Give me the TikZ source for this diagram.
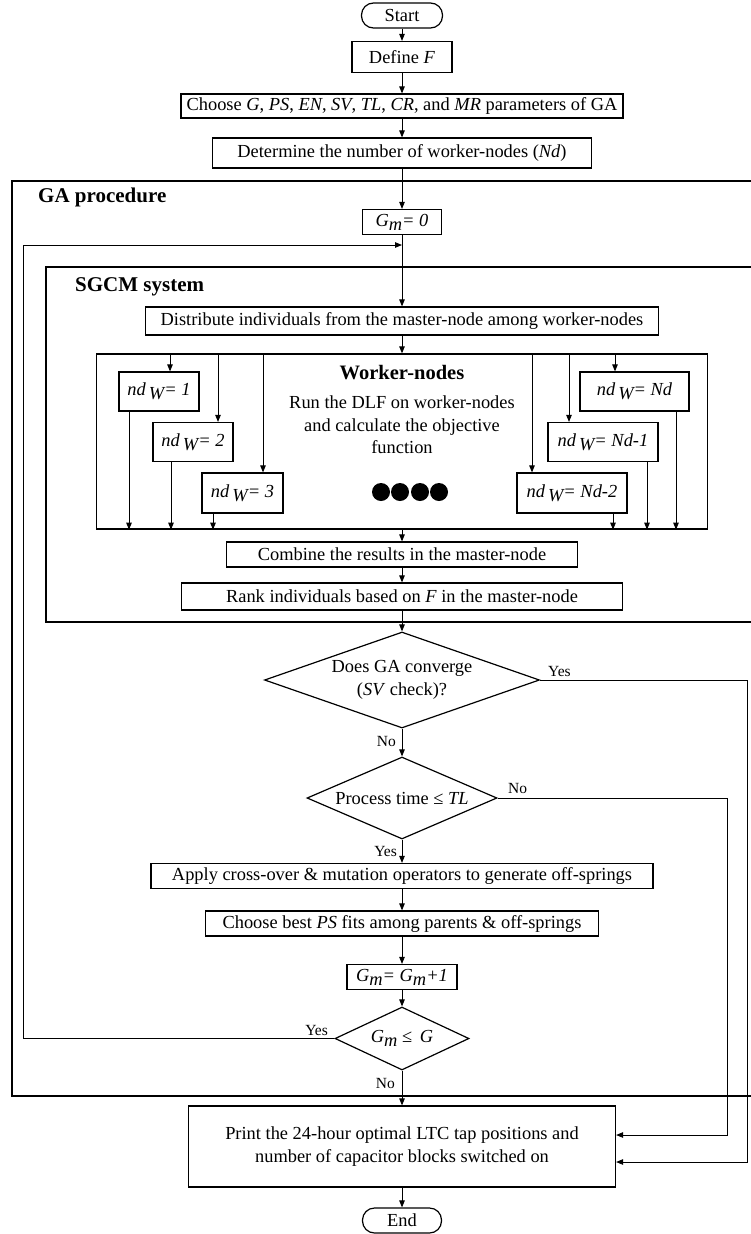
\documentclass[tikz,border=0pt]{standalone}
\usepackage{fontspec}
\setmainfont{Liberation Serif}
\usetikzlibrary{shapes.geometric,arrows.meta}

% subscript that stays at full size, just lowered
\newcommand{\lowsub}[1]{\raisebox{-0.45ex}{#1}}

\begin{document}
\begin{tikzpicture}[x=1pt,y=-1pt,
  every node/.style={font=\fontsize{18.4}{22.5}\selectfont, inner sep=0pt},
  proc/.style={draw, line width=1.2pt, align=center},
  term/.style={proc, rounded corners=12pt},
  dec/.style={draw, line width=1.2pt, shape=diamond},
  frame/.style={line width=1.8pt},
  flow/.style={line width=0.9pt, -{Triangle[length=7pt,width=5.5pt]}},
  tag/.style={font=\fontsize{15.5}{18}\selectfont},
  heading/.style={font=\fontsize{21}{24}\selectfont\bfseries, anchor=west}]

\useasboundingbox (0,0) rectangle (751,1234);

% ---------- set-up steps ----------
\node[term, minimum width=81pt, minimum height=25pt] (start) at (402,15.5) {Start};
\node[proc, minimum width=100pt, minimum height=31pt] (def) at (402,57) {Define \textit{F}};
\node[proc, minimum width=442pt, minimum height=24pt] (par) at (402,106)
  {Choose \textit{G}, \textit{PS}, \textit{EN}, \textit{SV}, \textit{TL}, \textit{CR}, and \textit{MR} parameters of GA};
\node[proc, minimum width=379pt, minimum height=30pt] (num) at (402,153)
  {Determine the number of worker-nodes (\textit{Nd})};

% ---------- GA procedure frame ----------
\draw[frame] (751,181) -- (12,181) -- (12,1096) -- (751,1096);
\node[heading] (gahead) at (38,197) {GA procedure};
\node[proc, minimum width=79pt, minimum height=25pt] (g0) at (402,222)
  {\itshape G\lowsub{m}= 0};
\coordinate (merge) at (402,245);
\coordinate (loopx) at (23,0);

% ---------- SGCM system frame ----------
\draw[frame] (751,267) -- (46,267) -- (46,622) -- (751,622);
\node[heading] (sghead) at (75,287) {SGCM system};
\node[proc, minimum width=513pt, minimum height=28pt] (dist) at (402,321)
  {Distribute individuals from the master-node among worker-nodes};

% worker-nodes block
\node[draw, line width=1.3pt, minimum width=611pt, minimum height=175pt] (wk) at (402,441.5) {};
\node[font=\fontsize{20.5}{24}\selectfont\bfseries] (wkhead) at (402,373) {Worker-nodes};
\node[align=center] (wktext) at (402,425) {Run the DLF on worker-nodes\\and calculate the objective\\function};
\foreach \dx in {381,400,420,439} \fill (\dx,492) circle[radius=9pt];

\node[proc, minimum width=80pt,  minimum height=39pt] (n1) at (159,391.5) {\itshape nd\,\lowsub{W}= 1};
\node[proc, minimum width=80pt,  minimum height=39pt] (n2) at (193,442)   {\itshape nd\,\lowsub{W}= 2};
\node[proc, minimum width=81pt,  minimum height=40pt] (n3) at (242.5,493) {\itshape nd\,\lowsub{W}= 3};
\node[proc, minimum width=109pt, minimum height=39pt] (nN)  at (634.5,391.5) {\itshape nd\,\lowsub{W}= Nd};
\node[proc, minimum width=110pt, minimum height=39pt] (nN1) at (603,442)   {\itshape nd\,\lowsub{W}= Nd-1};
\node[proc, minimum width=110pt, minimum height=40pt] (nN2) at (572,493)   {\itshape nd\,\lowsub{W}= Nd-2};

% x positions of the feed and return lines of each worker
\coordinate (i1) at (170,0);   \coordinate (o1) at (129,0);
\coordinate (i2) at (218,0);   \coordinate (o2) at (171,0);
\coordinate (i3) at (263,0);   \coordinate (o3) at (213,0);
\coordinate (iN)  at (615,0);  \coordinate (oN)  at (676,0);
\coordinate (iN1) at (569,0);  \coordinate (oN1) at (647,0);
\coordinate (iN2) at (532,0);  \coordinate (oN2) at (613,0);

\foreach \w/\i/\o in {n1/i1/o1, n2/i2/o2, n3/i3/o3, nN/iN/oN, nN1/iN1/oN1, nN2/iN2/oN2} {
  \draw[flow] (wk.north -| \i) -- (\w.north -| \i);
  \draw[flow] (\w.south -| \o) -- (wk.south -| \o);
}

\node[proc, minimum width=351pt, minimum height=25pt] (comb) at (402,554.5)
  {Combine the results in the master-node};
\node[proc, minimum width=441pt, minimum height=27pt] (rank) at (402,596.5)
  {Rank individuals based on \textit{F} in the master-node};

% ---------- decisions and GA operators ----------
\node[dec, minimum width=275pt, minimum height=96pt] (conv) at (402,680) {};
\node[align=center] (convtext) at (conv.center) {Does GA converge\\(\textit{SV} check)?};
\node[dec, minimum width=190pt, minimum height=82pt] (time) at (402,798) {};
\node (timetext) at (time.center) {Process time ≤ \textit{TL}};
\node[proc, minimum width=502pt, minimum height=25pt] (cross) at (402,876)
  {Apply cross-over \& mutation operators to generate off-springs};
\node[proc, minimum width=393pt, minimum height=25pt] (best) at (402,923.5)
  {Choose best \textit{PS} fits among parents \& off-springs};
\node[proc, minimum width=110pt, minimum height=25pt] (inc) at (402,977)
  {\itshape G\lowsub{m}= G\lowsub{m}+1};
\node[dec, minimum width=134pt, minimum height=63pt] (gen) at (402,1038.5) {};
\node (gentext) at (gen.center) {\textit{G\lowsub{m}} ≤\, \textit{G}};

% ---------- output ----------
\node[proc, minimum width=427pt, minimum height=81pt] (out) at (402,1146.5)
  {Print the 24-hour optimal LTC tap positions and\\number of capacitor blocks switched on};
\node[term, minimum width=79pt, minimum height=25pt] (end) at (402,1220.5) {End};

\coordinate (r1) at (747.5,1162);
\coordinate (r2) at (727.5,1135);

% ---------- connectors ----------
\draw[flow] (start.south) -- (def.north);
\draw[flow] (def.south) -- (par.north);
\draw[flow] (par.south) -- (num.north);
\draw[flow] (num.south) -- (g0.north);
\draw[flow] (g0.south) -- (dist.north);
\draw[flow] (gen.west) -- (gen.west -| loopx) |- (merge);
\draw[flow] (dist.south) -- (wk.north);
\draw[flow] (wk.south) -- (comb.north);
\draw[flow] (comb.south) -- (rank.north);
\draw[flow] (rank.south) -- (conv.north);
\draw[flow] (conv.south) -- (time.north);
\draw[flow] (time.south) -- (cross.north);
\draw[flow] (cross.south) -- (best.north);
\draw[flow] (best.south) -- (inc.north);
\draw[flow] (inc.south) -- (gen.north);
\draw[flow] (gen.south) -- (out.north);
\draw[flow] (out.south) -- (end.north);
\draw[flow] (conv.east) -| (r1) -- (r1 -| out.east);
\draw[flow] (time.east) -| (r2) -- (r2 -| out.east);

% branch labels
\node[tag, anchor=base west] (yes1) at (548,676) {Yes};
\node[tag, anchor=base east] (no1)  at (396,746) {No};
\node[tag, anchor=base west] (no2)  at (508,793) {No};
\node[tag, anchor=base east] (yes2) at (397,856) {Yes};
\node[tag, anchor=base east] (yes3) at (328,1035) {Yes};
\node[tag, anchor=base east] (no3)  at (395,1088) {No};

\end{tikzpicture}
\end{document}
